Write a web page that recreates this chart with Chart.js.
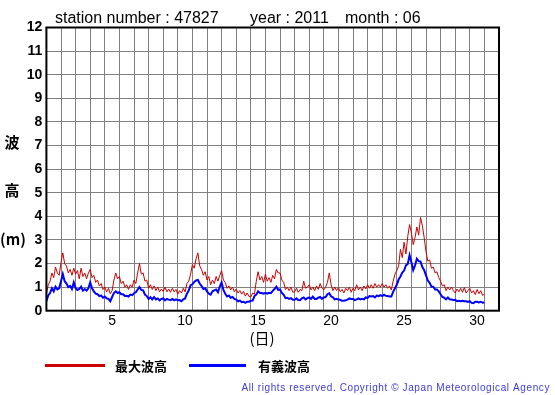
<!DOCTYPE html>
<html lang="ja">
<head>
<meta charset="UTF-8">
<title>波高 47827 2011-06</title>
<script src="https://cdn.jsdelivr.net/npm/chart.js@4.4.1/dist/chart.umd.min.js"></script>
<style>
  html, body { margin: 0; padding: 0; background: #fff; }
  #wrap { position: relative; width: 555px; height: 395px; }
</style>
</head>
<body>
<div id="wrap"><canvas id="c" width="555" height="395"></canvas></div>
<script>
// 3時間ごとの値 (1日8点), 6月1日 00時から
const STEP_HOURS = 3;

const maxWave = [
  0.7, 1.1, 1.25, 1.6, 1.4, 1.85, 1.6, 1.5,       // 1
  2.05, 2.45, 2.0, 1.9, 1.6, 1.75, 1.5, 1.8,      // 2
  1.55, 1.7, 1.35, 1.8, 1.45, 1.6, 1.35, 1.6,     // 3
  1.75, 1.4, 1.5, 1.2, 1.3, 1.05, 1.15, 0.9,      // 4
  1.0, 0.8, 0.95, 0.72, 0.85, 1.3, 1.6, 1.35,     // 5
  1.45, 1.15, 1.25, 1.0, 1.1, 0.9, 1.1, 1.0,      // 6
  1.3, 1.15, 1.6, 2.0, 1.55, 1.6, 1.25, 1.3,      // 7
  0.95, 1.1, 0.9, 1.05, 0.85, 1.0, 0.8, 0.92,     // 8
  0.82, 1.0, 0.8, 0.92, 0.78, 0.95, 0.8, 0.9,     // 9
  0.7, 0.85, 0.75, 0.95, 0.8, 1.15, 1.25, 1.55,   // 10
  1.95, 1.8, 2.2, 2.45, 1.9, 1.75, 1.5, 1.65,     // 11
  1.3, 1.45, 1.1, 1.3, 1.15, 1.45, 1.25, 1.5,     // 12
  1.7, 1.3, 1.2, 0.95, 1.05, 0.88, 1.0, 0.8,      // 13
  0.92, 0.75, 0.85, 0.7, 0.82, 0.62, 0.75, 0.6,   // 14
  0.58, 0.75, 0.7, 1.25, 1.65, 1.3, 1.45, 1.2,    // 15
  1.55, 1.25, 1.4, 1.2, 1.5, 1.35, 1.75, 1.6,     // 16
  1.6, 1.3, 1.2, 0.9, 1.0, 0.85, 1.0, 0.78,       // 17
  0.8, 0.95, 0.78, 0.9, 0.85, 1.25, 0.95, 1.0,    // 18
  1.1, 0.88, 1.0, 0.85, 1.05, 0.9, 1.15, 0.95,    // 19
  0.88, 1.0, 1.2, 1.6, 1.1, 0.85, 1.0, 0.85,      // 20
  0.98, 0.8, 0.9, 0.75, 0.95, 0.85, 1.0, 0.78,    // 21
  0.95, 0.85, 1.1, 0.88, 1.0, 0.85, 1.05, 0.92,   // 22
  1.1, 0.95, 1.1, 0.95, 1.15, 1.0, 1.1, 1.0,      // 23
  1.15, 1.0, 1.1, 0.95, 1.05, 0.88, 1.25, 1.55,   // 24
  1.7, 1.9, 2.6, 2.25, 2.9, 2.4, 3.15, 3.65,      // 25
  3.3, 2.8, 3.1, 3.55, 3.2, 3.95, 3.6, 3.1,       // 26
  2.5, 2.1, 2.15, 1.8, 1.85, 1.6, 1.65, 1.4,      // 27
  1.25, 1.05, 1.1, 0.85, 1.0, 0.88, 1.0, 0.85,    // 28
  0.75, 0.92, 0.8, 0.95, 0.78, 0.98, 0.75, 0.85,  // 29
  0.95, 0.75, 0.85, 0.68, 0.9, 0.72, 0.85, 0.65,  // 30
  0.7
];

const sigWave = [
  0.4, 0.65, 0.75, 0.95, 0.82, 1.02, 0.9, 0.95,   // 1
  1.25, 1.55, 1.25, 1.15, 1.0, 1.05, 0.92, 1.2,   // 2
  0.95, 0.88, 0.92, 1.02, 0.85, 0.92, 0.85, 0.95, // 3
  1.2, 0.95, 0.82, 0.72, 0.7, 0.62, 0.64, 0.55,   // 4
  0.6, 0.52, 0.5, 0.4, 0.58, 0.75, 0.82, 0.75,    // 5
  0.78, 0.7, 0.7, 0.62, 0.63, 0.6, 0.68, 0.66,    // 6
  0.74, 0.78, 0.9, 1.0, 0.88, 0.86, 0.68, 0.62,   // 7
  0.5, 0.57, 0.48, 0.58, 0.48, 0.52, 0.44, 0.5,   // 8
  0.52, 0.44, 0.5, 0.47, 0.45, 0.5, 0.44, 0.48,   // 9
  0.44, 0.45, 0.4, 0.48, 0.52, 0.72, 0.86, 1.08,  // 10
  1.12, 1.22, 1.28, 1.3, 1.15, 1.05, 0.92, 0.95,  // 11
  0.82, 0.72, 0.68, 0.82, 0.86, 0.9, 0.78, 1.02,  // 12
  1.2, 0.88, 0.72, 0.6, 0.64, 0.55, 0.58, 0.5,    // 13
  0.47, 0.4, 0.43, 0.36, 0.38, 0.33, 0.38, 0.38,  // 14
  0.42, 0.43, 0.62, 0.68, 0.82, 0.75, 0.75, 0.72, // 15
  0.76, 0.72, 0.76, 0.74, 0.84, 0.92, 1.02, 0.88, // 16
  0.9, 0.75, 0.68, 0.53, 0.55, 0.5, 0.53, 0.46,   // 17
  0.46, 0.52, 0.45, 0.44, 0.52, 0.56, 0.48, 0.53, // 18
  0.56, 0.5, 0.6, 0.5, 0.5, 0.55, 0.58, 0.5,      // 19
  0.56, 0.58, 0.7, 0.74, 0.6, 0.57, 0.48, 0.5,    // 20
  0.47, 0.46, 0.42, 0.42, 0.44, 0.47, 0.52, 0.5,  // 21
  0.5, 0.45, 0.48, 0.52, 0.48, 0.5, 0.48, 0.56,   // 22
  0.54, 0.62, 0.6, 0.62, 0.56, 0.64, 0.62, 0.66,  // 23
  0.62, 0.68, 0.63, 0.62, 0.6, 0.6, 0.8, 0.95,    // 24
  1.1, 1.32, 1.45, 1.62, 1.7, 1.92, 1.98, 2.35,   // 25
  2.05, 1.72, 1.92, 2.2, 2.1, 2.08, 1.85, 1.72,   // 26
  1.5, 1.28, 1.18, 1.02, 1.02, 0.9, 0.9, 0.82,    // 27
  0.7, 0.58, 0.55, 0.48, 0.56, 0.48, 0.47, 0.45,  // 28
  0.46, 0.4, 0.42, 0.4, 0.42, 0.4, 0.4, 0.37,     // 29
  0.4, 0.33, 0.32, 0.38, 0.38, 0.35, 0.38, 0.34,  // 30
  0.35
];

const dayLabels = [5, 10, 15, 20, 25, 30];
const yMin = 0, yMax = 12;
const dayCount = 31;

const titleParts = ['station number : 47827', 'year : 2011', 'month : 06'];
const seriesNames = ['最大波高', '有義波高'];
const seriesColors = ['#cc0000', '#0000ff'];

function toPoints(arr) {
  return arr.map((v, i) => ({ x: i * STEP_HOURS / 24, y: v }));
}

// 文字・凡例・枠
const decorPlugin = {
  id: 'decor',
  afterDraw(chart) {
    const { ctx, chartArea } = chart;
    ctx.save();

    // 枠
    ctx.strokeStyle = '#000';
    ctx.lineWidth = 2;
    ctx.strokeRect(chartArea.left, chartArea.top, chartArea.right - chartArea.left, chartArea.bottom - chartArea.top);

    // タイトル
    ctx.fillStyle = '#000';
    ctx.font = '16px "Liberation Sans", Arial, sans-serif';
    ctx.textBaseline = 'alphabetic';
    ctx.textAlign = 'left';
    ctx.fillText(titleParts[0], 55, 22.5);
    ctx.fillText(titleParts[1], 250, 22.5);
    ctx.fillText(titleParts[2], 345, 22.5);

    // 縦軸タイトル
    ctx.font = 'bold 15px "Noto Sans CJK JP", sans-serif';
    ctx.textAlign = 'center';
    ctx.textBaseline = 'middle';
    ctx.fillText('波', 12, 142);
    ctx.fillText('高', 12, 190);
    ctx.fillText('(m)', 13, 239);

    // 横軸タイトル
    ctx.font = '15px "Noto Sans CJK JP", sans-serif';
    ctx.fillText('(日)', 262, 338);

    // 凡例
    const lx = [[45, 105, 115], [189, 246, 258]];
    ctx.font = 'bold 13px "Noto Sans CJK JP", sans-serif';
    ctx.textAlign = 'left';
    lx.forEach((p, i) => {
      ctx.strokeStyle = seriesColors[i];
      ctx.lineWidth = 3;
      ctx.beginPath();
      ctx.moveTo(p[0], 365.5);
      ctx.lineTo(p[1], 365.5);
      ctx.stroke();
      ctx.fillStyle = '#000';
      ctx.fillText(seriesNames[i], p[2], 366);
    });

    // 著作権表示
    ctx.fillStyle = '#3c3cdc';
    ctx.font = '10px "Liberation Sans", Arial, sans-serif';
    ctx.letterSpacing = '0.6px';
    ctx.textAlign = 'right';
    ctx.fillText('All rights reserved. Copyright © Japan Meteorological Agency', 550, 388);

    ctx.restore();
  }
};

new Chart(document.getElementById('c'), {
  type: 'line',
  data: {
    datasets: [{
      label: seriesNames[0],
      data: toPoints(maxWave),
      borderColor: seriesColors[0],
      borderWidth: 1,
      pointRadius: 0,
      tension: 0,
      order: 2
    }, {
      label: seriesNames[1],
      data: toPoints(sigWave),
      borderColor: seriesColors[1],
      borderWidth: 2,
      pointRadius: 0,
      tension: 0,
      order: 1
    }]
  },
  options: {
    responsive: false,
    animation: false,
    devicePixelRatio: 1,
    layout: { padding: { left: 0, top: 27.5, right: 56, bottom: 0 } },
    plugins: {
      legend: { display: false },
      title: { display: false },
      tooltip: { enabled: false }
    },
    scales: {
      x: {
        type: 'linear',
        min: 0,
        max: dayCount,
        afterBuildTicks(axis) {
          const t = [];
          for (let i = 0; i <= dayCount * 2; i++) t.push({ value: i / 2 });
          axis.ticks = t;
        },
        afterFit(axis) { axis.height = 84.3; },
        grid: {
          color: c => (c.tick && Number.isInteger(c.tick.value)) ? '#808080' : 'rgba(0,0,0,0)',
          lineWidth: 1,
          drawTicks: false
        },
        border: { display: false },
        ticks: {
          autoSkip: false,
          maxRotation: 0,
          padding: 2,
          color: '#000',
          font: { family: '"Liberation Sans", Arial, sans-serif', size: 14 },
          callback: v => dayLabels.includes(v + 0.5) ? String(v + 0.5) : ''
        }
      },
      y: {
        min: yMin,
        max: yMax,
        afterFit(axis) { axis.width = 46.4; },
        grid: { color: '#808080', lineWidth: 1, drawTicks: false },
        border: { display: false },
        ticks: {
          stepSize: 1,
          padding: 4,
          color: '#000',
          font: { family: '"Liberation Sans", Arial, sans-serif', size: 14, weight: 'bold' }
        }
      }
    }
  },
  plugins: [decorPlugin]
});
</script>
</body>
</html>
